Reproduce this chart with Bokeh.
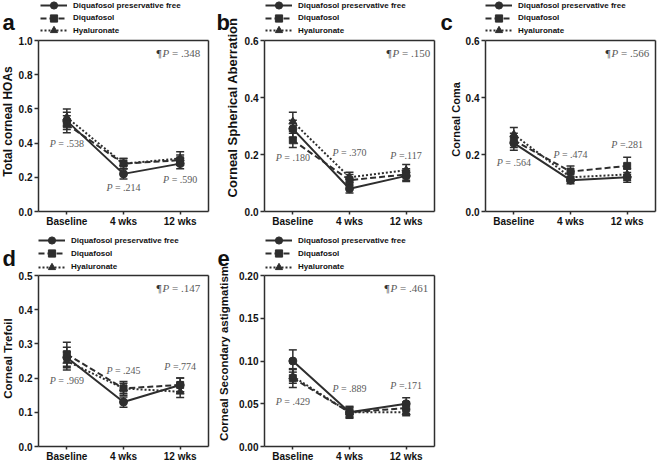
import math
from bokeh.plotting import figure
from bokeh.layouts import column, row
from bokeh.models import (ColumnDataSource, Legend, LegendItem, LinearAxis,
                          Label, Range1d, FixedTicker, NumeralTickFormatter)
from bokeh.embed import file_html
from bokeh.resources import INLINE

# ---------------- data ----------------
timepoints = ["Baseline", "4 wks", "12 wks"]
groups = ["Diquafosol preservative free", "Diquafosol", "Hyaluronate"]

# a: Total corneal HOAs
hoa_pf = [0.53, 0.22, 0.28]; hoa_pf_err = [0.05, 0.03, 0.03]
hoa_dq = [0.51, 0.28, 0.30]; hoa_dq_err = [0.05, 0.03, 0.03]
hoa_ha = [0.55, 0.28, 0.31]; hoa_ha_err = [0.05, 0.03, 0.04]
hoa_p = ["P = .538", "P = .214", "P = .590"]
hoa_p_y = [0.40, 0.14, 0.19]
hoa_overall = "¶P = .348"

# b: Corneal Spherical Aberration
sa_pf = [0.29, 0.08, 0.125]; sa_pf_err = [0.03, 0.015, 0.02]
sa_dq = [0.25, 0.11, 0.13]; sa_dq_err = [0.025, 0.02, 0.02]
sa_ha = [0.315, 0.12, 0.145]; sa_ha_err = [0.033, 0.018, 0.02]
sa_p = ["P = .180", "P = .370", "P =.117"]
sa_p_y = [0.19, 0.208, 0.196]
sa_overall = "¶P = .150"

# c: Corneal Coma
coma_pf = [0.24, 0.11, 0.12]; coma_pf_err = [0.025, 0.013, 0.017]
coma_dq = [0.25, 0.14, 0.16]; coma_dq_err = [0.025, 0.02, 0.03]
coma_ha = [0.27, 0.12, 0.13]; coma_ha_err = [0.025, 0.015, 0.02]
coma_p = ["P = .564", "P = .474", "P =.281"]
coma_p_y = [0.173, 0.20, 0.235]
coma_overall = "¶P = .566"

# d: Corneal Trefoil
tre_pf = [0.26, 0.13, 0.18]; tre_pf_err = [0.03, 0.015, 0.02]
tre_dq = [0.27, 0.17, 0.18]; tre_dq_err = [0.035, 0.02, 0.02]
tre_ha = [0.25, 0.17, 0.16]; tre_ha_err = [0.026, 0.015, 0.017]
tre_p = ["P = .969", "P = .245", "P =.774"]
tre_p_y = [0.193, 0.222, 0.235]
tre_overall = "¶P = .147"

# e: Corneal Secondary astigmatism
sec_pf = [0.10, 0.04, 0.05]; sec_pf_err = [0.013, 0.007, 0.007]
sec_dq = [0.08, 0.04, 0.045]; sec_dq_err = [0.011, 0.006, 0.007]
sec_ha = [0.082, 0.04, 0.04]; sec_ha_err = [0.008, 0.005, 0.004]
sec_p = ["P = .429", "P = .889", "P =.171"]
sec_p_y = [0.053, 0.0675, 0.071]
sec_overall = "¶P = .461"

# ---------------- style ----------------
C = "#2e2e2e"
PGRAY = "#5a5a5a"
SANS = "Liberation Sans"
SERIF = "Liberation Serif"
BW, BH = 170, 171          # plot box size in px
X0, X1 = -0.5, 2.5          # x extent of the plot box
styles = [("solid", "circle", 8), ("6 3", "square", 7), ("2 2", "triangle", 8)]

EM = {"0": .5, "1": .5, "2": .5, "3": .5, "4": .5, "5": .5, "6": .5, "7": .5,
      "8": .5, "9": .5, ".": .25, " ": .25, "=": .564, "¶": .453}


def tw(s, fs):
    return sum(EM.get(ch, .5) for ch in s) * fs


def lab(p, **kw):
    p.add_layout(Label(**kw))


def style_axis(ax):
    ax.axis_line_color = C
    ax.axis_line_width = 1.5
    ax.major_tick_line_color = C
    ax.major_tick_line_width = 1.5
    ax.major_tick_in = 0
    ax.minor_tick_line_color = None
    ax.major_label_text_font = SANS
    ax.major_label_text_font_style = "bold"
    ax.major_label_text_font_size = "10px"
    ax.major_label_text_color = "#111111"


def make_panel(letter, ylabel, ylab_fs, ylab_pos, ymax, ystep, yfmt, series,
               pvals, pvals_y, overall, overall_dx, W, H, bl, bt,
               letter_pos, legend_dx, legend_rows):
    br = W - bl - BW
    bb = H - bt - BH
    ppx = BW / (X1 - X0)
    ppy = BH / ymax
    p = figure(frame_width=W, frame_height=H,
               x_range=Range1d(X0 - bl / ppx, X1 + br / ppx),
               y_range=Range1d(-bb / ppy, ymax + bt / ppy),
               output_backend="svg", toolbar_location=None, min_border=0)
    p.background_fill_color = "white"
    p.border_fill_color = "white"
    p.outline_line_color = None
    p.xgrid.visible = False
    p.ygrid.visible = False

    xa = p.xaxis[0]
    ya = p.yaxis[0]
    xa.fixed_location = 0
    xa.bounds = (X0, X1)
    ya.fixed_location = X0
    ya.bounds = (0, ymax)
    xa.ticker = FixedTicker(ticks=[0, 1, 2])
    xa.major_label_overrides = {i: t for i, t in enumerate(timepoints)}
    nt = int(round(ymax / ystep))
    ya.ticker = FixedTicker(ticks=[round(i * ystep, 4) for i in range(nt + 1)])
    ya.formatter = NumeralTickFormatter(format=yfmt)
    style_axis(xa)
    style_axis(ya)
    xa.major_tick_out = 3
    xa.major_label_standoff = 1
    ya.major_tick_out = 4
    ya.major_label_standoff = 2

    # top and right sides of the plot box
    top = LinearAxis(fixed_location=ymax, bounds=(X0, X1), ticker=FixedTicker(ticks=[]))
    right = LinearAxis(fixed_location=X1, bounds=(0, ymax), ticker=FixedTicker(ticks=[]))
    for ax in (top, right):
        style_axis(ax)
        ax.major_tick_line_color = None
        ax.major_label_text_font_size = "0px"
    p.add_layout(top, "above")
    p.add_layout(right, "right")

    # panel letter
    lab(p, x=bl + letter_pos[0], y=H - bt + letter_pos[1], x_units="screen",
        y_units="screen", text=letter, text_font=SANS, text_font_style="bold",
        text_font_size="22px", text_color="#111111", text_align="left",
        text_baseline="alphabetic")

    # y axis title
    lab(p, x=bl + ylab_pos[0], y=bb + ylab_pos[1], x_units="screen", y_units="screen",
        text=ylabel, angle=math.pi / 2, text_font=SANS, text_font_style="bold",
        text_font_size=f"{ylab_fs}px", text_color="#111111",
        text_align="center", text_baseline="middle")

    items = []
    for (vals, errs), (dash, marker, size), name in zip(series, styles, groups):
        src = ColumnDataSource(dict(
            x=[0, 1, 2], y=vals,
            upper=[v + e for v, e in zip(vals, errs)],
            lower=[v - e for v, e in zip(vals, errs)]))
        lr = p.line("x", "y", source=src, line_color=C, line_width=2, line_dash=dash)
        p.segment(x0="x", y0="lower", x1="x", y1="upper", source=src,
                  line_color=C, line_width=1.5)
        p.scatter("x", "upper", source=src, marker="dash", size=8,
                  line_color=C, line_width=1.5)
        p.scatter("x", "lower", source=src, marker="dash", size=8,
                  line_color=C, line_width=1.5)
        sr = p.scatter("x", "y", source=src, marker=marker, size=size,
                       fill_color=C, line_color=C)
        items.append((name, lr, sr))

    # legend, one row per item, above the plot box
    for (name, lr, sr), cy in zip(items, legend_rows):
        leg = Legend(items=[LegendItem(label=name, renderers=[lr, sr])],
                     location=(bl + legend_dx, H - bt + cy - 9), orientation="vertical",
                     glyph_width=27, glyph_height=18, label_height=18,
                     label_standoff=6, spacing=0, padding=0, margin=0,
                     background_fill_alpha=0, border_line_alpha=0,
                     label_text_font=SANS, label_text_font_style="bold",
                     label_text_font_size="8px", label_text_color="#111111")
        p.add_layout(leg)

    # per-timepoint P values (italic P)
    fs = 10
    for i, (s, yv) in enumerate(zip(pvals, pvals_y)):
        rest = s[1:].strip()
        wP = 0.611 * fs
        wR = tw(rest, fs)
        sp = 0.25 * fs
        total = wP + sp + wR
        left = -total / 2
        lab(p, x=i, y=yv, x_offset=left, text="P", text_font=SERIF,
            text_font_style="italic", text_font_size=f"{fs}px", text_color=PGRAY,
            text_align="left", text_baseline="middle")
        lab(p, x=i, y=yv, x_offset=left + wP + sp, text=rest, text_font=SERIF,
            text_font_size=f"{fs}px", text_color=PGRAY,
            text_align="left", text_baseline="middle")

    # overall P value
    fs2 = 11
    rest = overall.split("P", 1)[1].strip()
    wR = tw(rest, fs2)
    sp = 0.25 * fs2
    xr = overall_dx
    lab(p, x=2, y=ymax, x_offset=xr, y_offset=-12, text=rest, text_font=SERIF,
        text_font_size=f"{fs2}px", text_color=PGRAY, text_align="right",
        text_baseline="middle")
    xP = xr - wR - sp
    lab(p, x=2, y=ymax, x_offset=xP, y_offset=-12, text="P", text_font=SERIF,
        text_font_style="italic", text_font_size=f"{fs2}px", text_color=PGRAY,
        text_align="right", text_baseline="middle")
    xPil = xP - 0.611 * fs2 - 1
    lab(p, x=2, y=ymax, x_offset=xPil, y_offset=-12, text="¶", text_font=SERIF,
        text_font_size=f"{fs2}px", text_color="#333333", text_align="right",
        text_baseline="middle")
    return p


row1_leg = [35, 22.5, 10]
row2_leg = [35, 21.7, 8.3]

pa = make_panel("a", "Total corneal HOAs", 12, (-31, 90), 1.0, 0.2, "0.0",
                [(hoa_pf, hoa_pf_err), (hoa_dq, hoa_dq_err), (hoa_ha, hoa_ha_err)],
                hoa_p, hoa_p_y, hoa_overall, 20, 214, 232, 38, 40, (-36, 18), 2, row1_leg)
pb = make_panel("b", "Corneal Spherical Aberration", 13, (-32, 104), 0.6, 0.2, "0.0",
                [(sa_pf, sa_pf_err), (sa_dq, sa_dq_err), (sa_ha, sa_ha_err)],
                sa_p, sa_p_y, sa_overall, 24, 222, 232, 50, 40, (-48, 18), 1, row1_leg)
pc = make_panel("c", "Corneal Coma", 11, (-30, 92), 0.6, 0.2, "0.0",
                [(coma_pf, coma_pf_err), (coma_dq, coma_dq_err), (coma_ha, coma_ha_err)],
                coma_p, coma_p_y, coma_overall, 22, 222, 232, 49, 40, (-45, 18), 0, row1_leg)
pd_ = make_panel("d", "Corneal Trefoil", 11.5, (-31, 88), 0.5, 0.1, "0.0",
                 [(tre_pf, tre_pf_err), (tre_dq, tre_dq_err), (tre_ha, tre_ha_err)],
                 tre_p, tre_p_y, tre_overall, 20, 214, 232, 38, 43, (-36, 17), 0, row2_leg)
pe = make_panel("e", "Corneal Secondary astigmatism", 11.5, (-41, 93), 0.2, 0.05, "0.00",
                [(sec_pf, sec_pf_err), (sec_dq, sec_dq_err), (sec_ha, sec_ha_err)],
                sec_p, sec_p_y, sec_overall, 22, 222, 232, 50, 43, (-47, 17), 1, row2_leg)

layout = column(row(pa, pb, pc, spacing=0), row(pd_, pe, spacing=0), spacing=0,
                styles={"margin-left": "0px", "margin-top": "0px",
                        "margin-right": "0px", "margin-bottom": "-40px"})

open("out.html", "w").write(file_html(layout, INLINE))
